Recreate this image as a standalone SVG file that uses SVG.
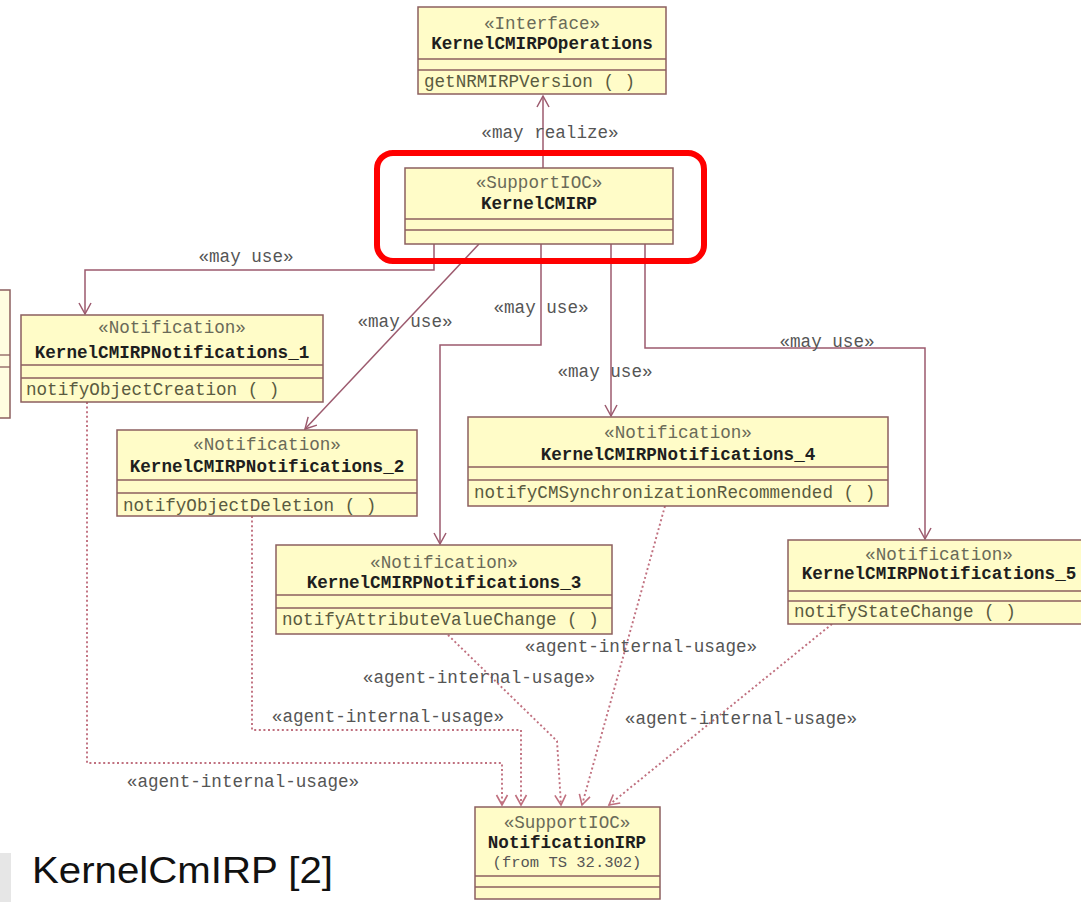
<svg xmlns="http://www.w3.org/2000/svg" width="1081" height="902" viewBox="0 0 1081 902">
<defs>
<style>
.box{fill:#fffcc8;stroke:#8c5f5f;stroke-width:1.5}
.div{stroke:#8c5f5f;stroke-width:1.3}
.st{font-family:"Liberation Mono",monospace;font-size:17.6px;fill:#6a6a58;text-anchor:middle}
.nm{font-family:"Liberation Mono",monospace;font-size:17.6px;font-weight:bold;fill:#1e1e1e;text-anchor:middle}
.op{font-family:"Liberation Mono",monospace;font-size:17.6px;fill:#5a5a40}
.lbl{font-family:"Liberation Mono",monospace;font-size:17.6px;fill:#555;text-anchor:middle}
.sm{font-family:"Liberation Mono",monospace;font-size:15.5px;fill:#555;text-anchor:middle}
.solid{fill:none;stroke:#9c5a6e;stroke-width:1.5}
.dot{fill:none;stroke:#c0707f;stroke-width:1.9;stroke-dasharray:2 2.6}
</style>
<marker id="ah" markerUnits="userSpaceOnUse" markerWidth="16" markerHeight="16" viewBox="-12 -8 14 16" refX="0" refY="0" orient="auto">
<path d="M-11,-6 L0,0 L-11,6" fill="none" stroke="#9c5a6e" stroke-width="1.5"/>
</marker>
<marker id="ahd" markerUnits="userSpaceOnUse" markerWidth="16" markerHeight="16" viewBox="-12 -8 14 16" refX="0" refY="0" orient="auto">
<path d="M-10,-5.5 L0,0 L-10,5.5" fill="none" stroke="#c0707f" stroke-width="1.6"/>
</marker>
</defs>
<rect width="1081" height="902" fill="#ffffff"/>

<g id="connectors">
<path class="solid" d="M543,168 V96" marker-end="url(#ah)"/>
<path class="solid" d="M434,244 V270 H85 V314" marker-end="url(#ah)"/>
<path class="solid" d="M479,244 L305,429" marker-end="url(#ah)"/>
<path class="solid" d="M541,244 V345 H440 V544" marker-end="url(#ah)"/>
<path class="solid" d="M611,244 V416" marker-end="url(#ah)"/>
<path class="solid" d="M645,244 V348 H925 V539" marker-end="url(#ah)"/>
<path class="dot" d="M87,402 V763 H502 V805" marker-end="url(#ahd)"/>
<path class="dot" d="M252,516 V730 H521 V805" marker-end="url(#ahd)"/>
<path class="dot" d="M448,635 L557,741 L561,805" marker-end="url(#ahd)"/>
<path class="dot" d="M665,506 L582,805" marker-end="url(#ahd)"/>
<path class="dot" d="M832,624 L609,805" marker-end="url(#ahd)"/>
<text class="lbl" x="550" y="138">«may realize»</text>
<text class="lbl" x="246" y="262">«may use»</text>
<text class="lbl" x="405" y="327">«may use»</text>
<text class="lbl" x="541" y="313">«may use»</text>
<text class="lbl" x="605" y="377">«may use»</text>
<text class="lbl" x="827" y="347">«may use»</text>
<text class="lbl" x="243" y="787">«agent-internal-usage»</text>
<text class="lbl" x="388" y="722">«agent-internal-usage»</text>
<text class="lbl" x="479" y="683">«agent-internal-usage»</text>
<text class="lbl" x="641" y="652">«agent-internal-usage»</text>
<text class="lbl" x="741" y="724">«agent-internal-usage»</text>
</g>

<g id="left-partial">
<rect x="-5" y="290" width="15" height="128" fill="#fffde0" stroke="#8c5f5f" stroke-width="1.5"/>
<line class="div" x1="0" y1="355" x2="10" y2="355"/>
<line class="div" x1="0" y1="367" x2="10" y2="367"/>
</g>

<g id="KernelCMIRPOperations">
<rect class="box" x="418" y="7" width="248" height="87"/>
<line class="div" x1="418" y1="59" x2="666" y2="59"/>
<line class="div" x1="418" y1="70" x2="666" y2="70"/>
<text class="st" x="542" y="29">«Interface»</text>
<text class="nm" x="542" y="49">KernelCMIRPOperations</text>
<text class="op" x="424" y="87">getNRMIRPVersion ( )</text>
</g>

<g id="KernelCMIRP">
<rect x="377" y="153" width="327" height="108" rx="16" ry="16" fill="none" stroke="#ff0000" stroke-width="6"/>
<rect class="box" x="405" y="168" width="268" height="76"/>
<line class="div" x1="405" y1="219" x2="673" y2="219"/>
<line class="div" x1="405" y1="230" x2="673" y2="230"/>
<text class="st" x="539" y="188">«SupportIOC»</text>
<text class="nm" x="539" y="209">KernelCMIRP</text>
</g>

<g id="KernelCMIRPNotifications_1">
<rect class="box" x="21" y="315" width="302" height="87"/>
<line class="div" x1="21" y1="365" x2="323" y2="365"/>
<line class="div" x1="21" y1="378" x2="323" y2="378"/>
<text class="st" x="172" y="333">«Notification»</text>
<text class="nm" x="172" y="358">KernelCMIRPNotifications_1</text>
<text class="op" x="26" y="395">notifyObjectCreation ( )</text>
</g>

<g id="KernelCMIRPNotifications_2">
<rect class="box" x="117" y="430" width="300" height="86"/>
<line class="div" x1="117" y1="480" x2="417" y2="480"/>
<line class="div" x1="117" y1="493" x2="417" y2="493"/>
<text class="st" x="267" y="450">«Notification»</text>
<text class="nm" x="267" y="472">KernelCMIRPNotifications_2</text>
<text class="op" x="123" y="511">notifyObjectDeletion ( )</text>
</g>

<g id="KernelCMIRPNotifications_3">
<rect class="box" x="276" y="545" width="336" height="89"/>
<line class="div" x1="276" y1="595" x2="612" y2="595"/>
<line class="div" x1="276" y1="608" x2="612" y2="608"/>
<text class="st" x="444" y="568">«Notification»</text>
<text class="nm" x="444" y="588">KernelCMIRPNotifications_3</text>
<text class="op" x="282" y="625">notifyAttributeValueChange ( )</text>
</g>

<g id="KernelCMIRPNotifications_4">
<rect class="box" x="468" y="417" width="420" height="89"/>
<line class="div" x1="468" y1="467" x2="888" y2="467"/>
<line class="div" x1="468" y1="480" x2="888" y2="480"/>
<text class="st" x="678" y="438">«Notification»</text>
<text class="nm" x="678" y="460">KernelCMIRPNotifications_4</text>
<text class="op" x="474" y="498">notifyCMSynchronizationRecommended ( )</text>
</g>

<g id="KernelCMIRPNotifications_5">
<rect class="box" x="788" y="540" width="310" height="84"/>
<line class="div" x1="788" y1="591" x2="1081" y2="591"/>
<line class="div" x1="788" y1="601" x2="1081" y2="601"/>
<text class="st" x="939" y="560">«Notification»</text>
<text class="nm" x="939" y="579">KernelCMIRPNotifications_5</text>
<text class="op" x="794" y="617">notifyStateChange ( )</text>
</g>

<g id="NotificationIRP">
<rect class="box" x="475" y="807" width="185" height="92"/>
<line class="div" x1="475" y1="876" x2="660" y2="876"/>
<line class="div" x1="475" y1="887" x2="660" y2="887"/>
<text class="st" x="567" y="828">«SupportIOC»</text>
<text class="nm" x="567" y="848">NotificationIRP</text>
<text class="sm" x="567" y="867">(from TS 32.302)</text>
</g>

<g id="caption">
<rect x="0" y="853" width="11" height="49" fill="#e6e6e6"/>
<text x="32" y="883" font-family="Liberation Sans, Arial, sans-serif" font-size="37" fill="#111" textLength="301" lengthAdjust="spacingAndGlyphs">KernelCmIRP [2]</text>
</g>
</svg>
